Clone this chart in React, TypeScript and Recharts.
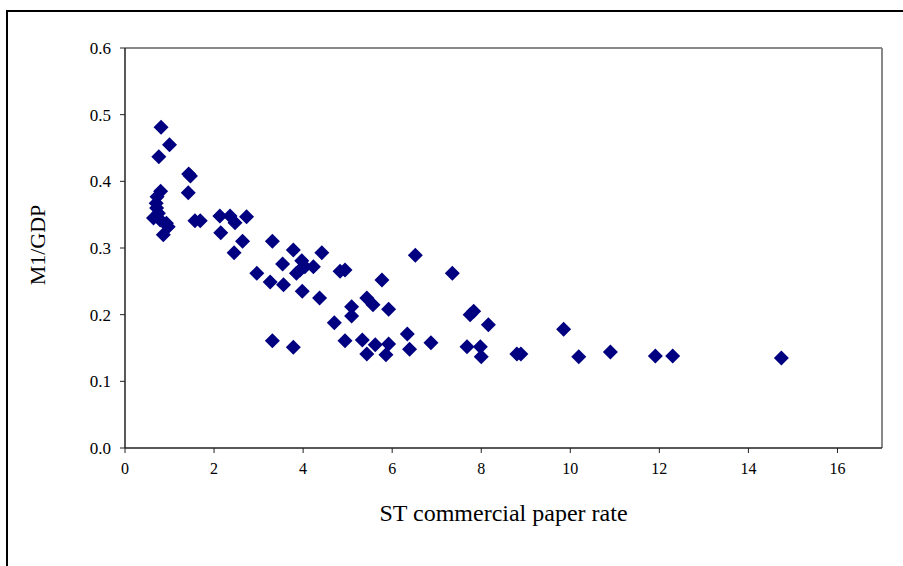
import { ScatterChart, Scatter, XAxis, YAxis, ReferenceLine } from "recharts";

const FONT = '"Liberation Serif", "Times New Roman", serif';

// ST commercial paper rate (x) and M1/GDP (y)
const paperRate = [
  0.81, 1.0, 0.76, 1.43, 1.47, 1.42, 0.8, 0.72, 0.7, 0.71, 0.75, 0.64, 0.79, 0.93, 0.97, 0.86,
  1.57, 1.69, 2.13, 2.36, 2.47, 2.73, 2.15, 2.64, 2.45, 3.31, 3.78, 3.54, 3.97, 3.93, 3.85,
  4.04, 4.23, 4.42, 2.96, 3.26, 3.56, 3.98, 4.37, 4.83, 4.94, 6.52, 7.35, 5.77, 5.43, 5.57,
  5.09, 5.09, 5.92, 4.7, 7.75, 7.83, 8.16, 9.85, 3.31, 3.78, 4.94, 5.33, 5.43, 5.62, 5.92,
  5.86, 6.34, 6.39, 6.87, 7.68, 7.98, 8.0, 8.8, 8.89, 10.19, 10.9, 11.91, 12.3, 14.74,
];
const m1Gdp = [
  0.481, 0.455, 0.437, 0.411, 0.408, 0.383, 0.385, 0.377, 0.367, 0.36, 0.352, 0.345, 0.342,
  0.337, 0.332, 0.32, 0.341, 0.341, 0.348, 0.348, 0.338, 0.347, 0.323, 0.31, 0.293, 0.31,
  0.297, 0.276, 0.281, 0.267, 0.262, 0.272, 0.272, 0.293, 0.262, 0.249, 0.245, 0.235, 0.225,
  0.265, 0.267, 0.289, 0.262, 0.252, 0.225, 0.215, 0.212, 0.198, 0.208, 0.188, 0.2, 0.205,
  0.185, 0.178, 0.161, 0.151, 0.161, 0.162, 0.141, 0.155, 0.156, 0.14, 0.171, 0.148, 0.158,
  0.152, 0.152, 0.137, 0.141, 0.141, 0.137, 0.144, 0.138, 0.138, 0.135,
];
const xTicks = [0, 2, 4, 6, 8, 10, 12, 14, 16];
const yTicks = [0, 0.1, 0.2, 0.3, 0.4, 0.5, 0.6];

const data = paperRate.map((x, i) => ({ x, y: m1Gdp[i] }));

const Diamond = (props: any) => {
  const { cx, cy } = props;
  const r = 7.5;
  return (
    <polygon
      points={`${cx},${cy - r} ${cx + r},${cy} ${cx},${cy + r} ${cx - r},${cy}`}
      fill="#000080"
    />
  );
};

const XTick = (props: any) => {
  const { x, y, payload } = props;
  return (
    <text x={x} y={y} dy="0.71em" textAnchor="middle" fontFamily={FONT} fontSize={16} fill="#000">
      {payload.value}
    </text>
  );
};

const YTick = (props: any) => {
  const { x, y, payload } = props;
  return (
    <text x={x} y={y} dy="0.35em" textAnchor="end" fontFamily={FONT} fontSize={17} fill="#000">
      {Number(payload.value).toFixed(1)}
    </text>
  );
};

const XLabel = (props: any) => {
  const { viewBox } = props;
  return (
    <text
      x={viewBox.x + viewBox.width / 2}
      y={viewBox.y + viewBox.height + 43}
      textAnchor="middle"
      fontFamily={FONT}
      fontSize={24}
      fill="#000"
    >
      ST commercial paper rate
    </text>
  );
};

const YLabel = (props: any) => {
  const { viewBox } = props;
  const cx = viewBox.x - 28;
  const cy = viewBox.y + viewBox.height / 2 - 3;
  return (
    <text
      x={cx}
      y={cy}
      transform={`rotate(-90, ${cx}, ${cy})`}
      textAnchor="middle"
      dominantBaseline="central"
      fontFamily={FONT}
      fontSize={22}
      fill="#000"
    >
      M1/GDP
    </text>
  );
};

export default function App() {
  return (
    <div
      style={{
        position: "fixed",
        left: 0,
        top: 0,
        width: 903,
        height: 566,
        overflow: "hidden",
        background: "#fff",
      }}
    >
      <div
        style={{
          position: "absolute",
          left: 6,
          top: 10,
          width: 1000,
          height: 1000,
          borderLeft: "2.5px solid #000",
          borderTop: "2.5px solid #000",
        }}
      />
      <div style={{ position: "absolute", left: 0, top: 0 }}>
        <ScatterChart
          width={903}
          height={566}
          margin={{ top: 48, right: 21, bottom: 88, left: 65 }}
        >
          <XAxis
            type="number"
            dataKey="x"
            domain={[0, 17]}
            ticks={xTicks}
            allowDataOverflow
            height={30}
            tickSize={5}
            tickMargin={10}
            axisLine={{ stroke: "#222", strokeWidth: 1.5 }}
            tickLine={{ stroke: "#222" }}
            tick={<XTick />}
            label={<XLabel />}
          />
          <YAxis
            type="number"
            dataKey="y"
            domain={[0, 0.6]}
            ticks={yTicks}
            width={60}
            tickSize={5}
            tickMargin={9}
            axisLine={{ stroke: "#222", strokeWidth: 1.5 }}
            tickLine={{ stroke: "#222" }}
            tick={<YTick />}
            label={<YLabel />}
          />
          <ReferenceLine y={0.6} stroke="#888" strokeWidth={2} />
          <ReferenceLine x={17} stroke="#888" strokeWidth={2} />
          <Scatter data={data} shape={<Diamond />} isAnimationActive={false} />
        </ScatterChart>
      </div>
    </div>
  );
}
